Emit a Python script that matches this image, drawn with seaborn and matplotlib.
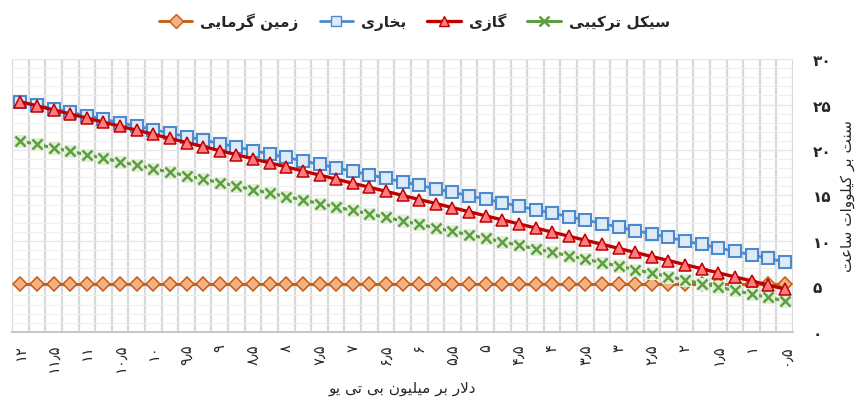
import numpy as np
import pandas as pd
import seaborn as sns
import matplotlib.pyplot as plt
from matplotlib.lines import Line2D

# قیمت سوخت (دلار بر میلیون بی تی یو)
prices = [12, 11.75, 11.5, 11.25, 11, 10.75, 10.5, 10.25, 10, 9.75, 9.5, 9.25,
          9, 8.75, 8.5, 8.25, 8, 7.75, 7.5, 7.25, 7, 6.75, 6.5, 6.25, 6, 5.75,
          5.5, 5.25, 5, 4.75, 4.5, 4.25, 4, 3.75, 3.5, 3.25, 3, 2.75, 2.5, 2.25,
          2, 1.75, 1.5, 1.25, 1, 0.75, 0.5]

# هزینه تولید (سنت بر کیلووات ساعت)
steam = [25.30, 24.92, 24.53, 24.15, 23.77, 23.39, 23.00, 22.62, 22.24, 21.86,
         21.47, 21.09, 20.71, 20.33, 19.94, 19.56, 19.18, 18.80, 18.41, 18.03,
         17.65, 17.27, 16.88, 16.50, 16.12, 15.73, 15.35, 14.97, 14.59, 14.20,
         13.82, 13.44, 13.06, 12.67, 12.29, 11.91, 11.53, 11.14, 10.76, 10.38,
         10.00, 9.61, 9.23, 8.85, 8.47, 8.08, 7.70]
gas = [25.30, 24.85, 24.40, 23.96, 23.51, 23.06, 22.61, 22.17, 21.72, 21.27,
       20.82, 20.37, 19.93, 19.48, 19.03, 18.58, 18.14, 17.69, 17.24, 16.79,
       16.34, 15.90, 15.45, 15.00, 14.55, 14.11, 13.66, 13.21, 12.76, 12.31,
       11.87, 11.42, 10.97, 10.52, 10.07, 9.63, 9.18, 8.73, 8.28, 7.84,
       7.39, 6.94, 6.49, 6.04, 5.60, 5.15, 4.70]
combined = [21.00, 20.62, 20.23, 19.85, 19.47, 19.09, 18.70, 18.32, 17.94, 17.56,
            17.17, 16.79, 16.41, 16.03, 15.64, 15.26, 14.88, 14.50, 14.11, 13.73,
            13.35, 12.97, 12.58, 12.20, 11.82, 11.43, 11.05, 10.67, 10.29, 9.90,
            9.52, 9.14, 8.76, 8.37, 7.99, 7.61, 7.23, 6.84, 6.46, 6.08,
            5.70, 5.31, 4.93, 4.55, 4.17, 3.78, 3.40]
geothermal = [5.3, 5.3, 5.3, 5.3, 5.3, 5.3, 5.3, 5.3, 5.3, 5.3, 5.3, 5.3,
              5.3, 5.3, 5.3, 5.3, 5.3, 5.3, 5.3, 5.3, 5.3, 5.3, 5.3, 5.3,
              5.3, 5.3, 5.3, 5.3, 5.3, 5.3, 5.3, 5.3, 5.3, 5.3, 5.3, 5.3,
              5.3, 5.3, 5.3, 5.3, 5.3, 5.3, 5.3, 5.3, 5.3, 5.3, 5.3]

lbl_geo = "زمین گرمایی"
lbl_steam = "بخاری"
lbl_gas = "گازی"
lbl_comb = "سیکل ترکیبی"
xlabel = "دلار بر میلیون بی تی یو"
ylabel = "سنت بر کیلووات ساعت"
y_ticks = [0, 5, 10, 15, 20, 25, 30]

# matplotlib حروف عربی را به هم نمی‌چسباند، پس شکل‌های نمایشی را دستی می‌سازیم
FORMS = {
    'ا': ('\uFE8D', '\uFE8E', None, None),
    'ب': ('\uFE8F', '\uFE90', '\uFE91', '\uFE92'),
    'ت': ('\uFE95', '\uFE96', '\uFE97', '\uFE98'),
    'خ': ('\uFEA5', '\uFEA6', '\uFEA7', '\uFEA8'),
    'د': ('\uFEA9', '\uFEAA', None, None),
    'ر': ('\uFEAD', '\uFEAE', None, None),
    'ز': ('\uFEAF', '\uFEB0', None, None),
    'س': ('\uFEB1', '\uFEB2', '\uFEB3', '\uFEB4'),
    'ع': ('\uFEC9', '\uFECA', '\uFECB', '\uFECC'),
    'ک': ('\uFB8E', '\uFB8F', '\uFB90', '\uFB91'),
    'گ': ('\uFB92', '\uFB93', '\uFB94', '\uFB95'),
    'ل': ('\uFEDD', '\uFEDE', '\uFEDF', '\uFEE0'),
    'م': ('\uFEE1', '\uFEE2', '\uFEE3', '\uFEE4'),
    'ن': ('\uFEE5', '\uFEE6', '\uFEE7', '\uFEE8'),
    'و': ('\uFEED', '\uFEEE', None, None),
    'ی': ('\uFBFC', '\uFBFD', '\uFBFE', '\uFBFF'),
}


def joins_next(c):
    return c in FORMS and FORMS[c][2] is not None


def fa(text):
    out = []
    i = 0
    n = len(text)
    while i < n:
        c = text[i]
        if c not in FORMS:
            out.append(c)
            i += 1
            continue
        from_prev = i > 0 and joins_next(text[i - 1])
        if c == 'ل' and i + 1 < n and text[i + 1] == 'ا':
            out.append('\uFEFC' if from_prev else '\uFEFB')
            i += 2
            continue
        to_next = joins_next(c) and i + 1 < n and text[i + 1] in FORMS
        iso, fin, ini, med = FORMS[c]
        if from_prev and to_next:
            out.append(med)
        elif from_prev:
            out.append(fin)
        elif to_next:
            out.append(ini)
        else:
            out.append(iso)
        i += 1
    return ''.join(reversed(out))


def fa_num(v):
    s = f"{v:g}"
    return s.translate(str.maketrans("0123456789.", "۰۱۲۳۴۵۶۷۸۹٫"))


sns.set_style("white")
plt.rcParams['font.family'] = ['DejaVu Sans']

fig = plt.figure(figsize=(8.63, 4.14), dpi=100)
ax = fig.add_axes([0.014, 0.196, 0.905, 0.659])

df = pd.DataFrame({"price": prices, "steam": steam, "gas": gas,
                   "combined": combined, "geo": geothermal})

# زمین گرمایی
sns.lineplot(data=df, x="price", y="geo", ax=ax, color="#C55A11", lw=2,
             marker="D", markersize=7.5, markerfacecolor="#F4B183",
             markeredgecolor="#C55A11", markeredgewidth=1.1, zorder=3)
# بخاری
sns.lineplot(data=df, x="price", y="steam", ax=ax, color="#4A8AD0", lw=2,
             marker="s", markersize=8, markerfacecolor="#DEEBF7",
             markeredgecolor="#4A8AD0", markeredgewidth=1.5, zorder=4)
# سیکل ترکیبی: پس‌زمینه روشن مارکر و سپس ضربدر
sns.lineplot(data=df, x="price", y="combined", ax=ax, color="#5E9E3E", lw=2.2,
             marker="s", markersize=8, markerfacecolor="#E2EFDA",
             markeredgecolor="#E2EFDA", zorder=5)
ax.plot(prices, combined, ls="none", marker="x", markersize=7.5,
        markeredgewidth=1.8, color="#5E9E3E", zorder=6)
# گازی
sns.lineplot(data=df, x="price", y="gas", ax=ax, color="#C00000", lw=2.4,
             marker="^", markersize=8.5, markerfacecolor="#FF7C80",
             markeredgecolor="#C00000", markeredgewidth=1.1, zorder=7)

ax.set_xlim(12.125, 0.375)
ax.set_ylim(0, 30)

ax.set_xticks(prices[::2])
ax.set_xticklabels([fa_num(p) for p in prices[::2]], rotation=90, fontsize=10.5)
ax.set_xticks(np.arange(12.125, 0.3, -0.25), minor=True)
ax.set_yticks(y_ticks)
ax.set_yticklabels([fa_num(v) for v in y_ticks], fontsize=11, fontweight="bold")
ax.set_yticks(range(0, 31), minor=True)
ax.yaxis.tick_right()
ax.tick_params(axis="x", which="both", length=0, pad=8)
ax.tick_params(axis="y", which="both", length=0, pad=14)

ax.grid(False)
ax.grid(which="minor", axis="x", color="#D9D9D9", lw=1.6, zorder=0)
ax.grid(which="minor", axis="y", color="#EFEFEF", lw=0.8, zorder=0)
ax.grid(which="major", axis="y", color="#E6E6E6", lw=0.9, zorder=0)
ax.set_axisbelow(True)

for s in ["top", "left", "right"]:
    ax.spines[s].set_visible(False)
ax.spines["bottom"].set_color("#C8C8C8")
ax.spines["bottom"].set_linewidth(1.5)

ax.set_xlabel(fa(xlabel), fontsize=11, labelpad=6)
ax.yaxis.set_label_position("right")
ax.set_ylabel(fa(ylabel), fontsize=11, rotation=90, labelpad=6)

handles = [
    Line2D([], [], color="#C55A11", lw=2, marker="D", markersize=7,
           markerfacecolor="#F4B183", markeredgecolor="#C55A11"),
    Line2D([], [], color="#4A8AD0", lw=2, marker="s", markersize=7.5,
           markerfacecolor="#DEEBF7", markeredgecolor="#4A8AD0"),
    Line2D([], [], color="#C00000", lw=2.4, marker="^", markersize=7.5,
           markerfacecolor="#FF7C80", markeredgecolor="#C00000"),
    Line2D([], [], color="#5E9E3E", lw=2.2, marker="x", markersize=6.5,
           markeredgewidth=1.8),
]
labels = [fa(lbl_geo), fa(lbl_steam), fa(lbl_gas), fa(lbl_comb)]
fig.legend(handles, labels, loc="upper center", bbox_to_anchor=(0.48, 1.0),
           ncol=4, frameon=False, handlelength=2.2,
           columnspacing=1.4, handletextpad=0.5,
           prop={"weight": "bold", "size": 11})

fig.savefig("out.png", dpi=100)
